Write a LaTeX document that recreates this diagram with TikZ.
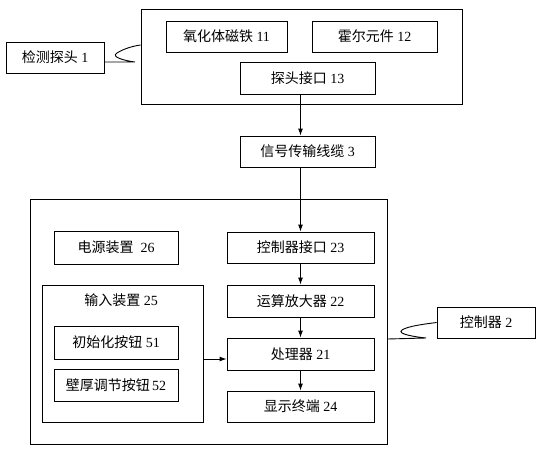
\documentclass[tikz,border=0pt]{standalone}
\usepackage{fontspec}
\setmainfont{Liberation Serif}
\newfontfamily\cjk{Noto Sans CJK SC}
\usetikzlibrary{arrows.meta,calc}
\begin{document}
\begin{tikzpicture}[x=1pt,y=-1pt,
  box/.style={draw, line width=0.9pt, inner sep=0pt, font=\fontsize{14}{16}\selectfont},
  frame/.style={draw, line width=0.9pt, inner sep=0pt},
  lbl/.style={inner sep=0pt, font=\fontsize{14}{16}\selectfont},
  arr/.style={-{Latex[length=7pt,width=5pt]}, line width=0.9pt},
  wire/.style={line width=0.9pt}]
\useasboundingbox (0,0) rectangle (543,450);
% probe group
\node[box, minimum width=98pt, minimum height=31pt] (p1) at (55,57.5) {{\cjk 检测探头} 1};
\node[frame, minimum width=321pt, minimum height=95pt] (topbox) at (301.5,56.5) {};
\node[box, minimum width=121pt, minimum height=31pt] (n11) at (226.5,36.5) {{\cjk 氧化体磁铁} 11};
\node[box, minimum width=125pt, minimum height=31pt] (n12) at (374.5,36.5) {{\cjk 霍尔元件} 12};
\node[box, minimum width=135pt, minimum height=32pt] (n13) at (307.5,78) {{\cjk 探头接口} 13};
\node[box, minimum width=135pt, minimum height=31pt] (n3) at (307.5,151.5) {{\cjk 信号传输线缆} 3};
% controller group
\node[frame, minimum width=357pt, minimum height=245pt] (botbox) at (208.5,321.5) {};
\node[box, minimum width=124pt, minimum height=33pt] (n26) at (116,247.5) {{\cjk 电源装置}\ \ 26};
\node[box, minimum width=161pt, minimum height=137pt] (n25) at (122.5,353.5) {};
\node[lbl] (n25l) at (121,300) {{\cjk 输入装置} 25};
\node[box, minimum width=124pt, minimum height=33pt] (n51) at (116,342.5) {{\cjk 初始化按钮} 51};
\node[box, minimum width=124pt, minimum height=32pt] (n52) at (116,385) {{\cjk 壁厚调节按钮}\,52};
\node[box, minimum width=147pt, minimum height=31pt] (n23) at (300.5,247.5) {{\cjk 控制器接口} 23};
\node[box, minimum width=147pt, minimum height=32pt] (n22) at (300.5,301) {{\cjk 运算放大器} 22};
\node[box, minimum width=147pt, minimum height=32pt] (n21) at (300.5,354) {{\cjk 处理器} 21};
\node[box, minimum width=147pt, minimum height=31pt] (n24) at (300.5,406.5) {{\cjk 显示终端} 24};
\node[box, minimum width=98pt, minimum height=31pt] (c2) at (486,322.5) {{\cjk 控制器} 2};
% arrows
\draw[arr] (n13.south -| n23.north) -- (n3.north -| n23.north);
\draw[arr] (n3.south -| n23.north) -- (n23.north);
\draw[arr] (n23) -- (n22);
\draw[arr] (n22) -- (n21);
\draw[arr] (n21) -- (n24);
\coordinate (a21) at ($(n21.west)+(0,5)$);
\draw[arr] (a21 -| n25.east) -- (a21);
% squiggles
\coordinate (s1a) at ($(p1.east)+(0,4.5)$);
\coordinate (s1e) at ($(topbox.west)+(0,-11.5)$);
\draw[wire] (s1a) -- (135,62) .. controls (126,61) and (110,57) .. (117,53)
  .. controls (123,49) and (133,46) .. (s1e);
\coordinate (s2a) at ($(botbox.east)+(0,17.5)$);
\draw[wire] (s2a) -- (426,338) .. controls (416,337) and (396,334) .. (402,330)
  .. controls (408,326) and (425,324) .. (c2.west);
\end{tikzpicture}
\end{document}
